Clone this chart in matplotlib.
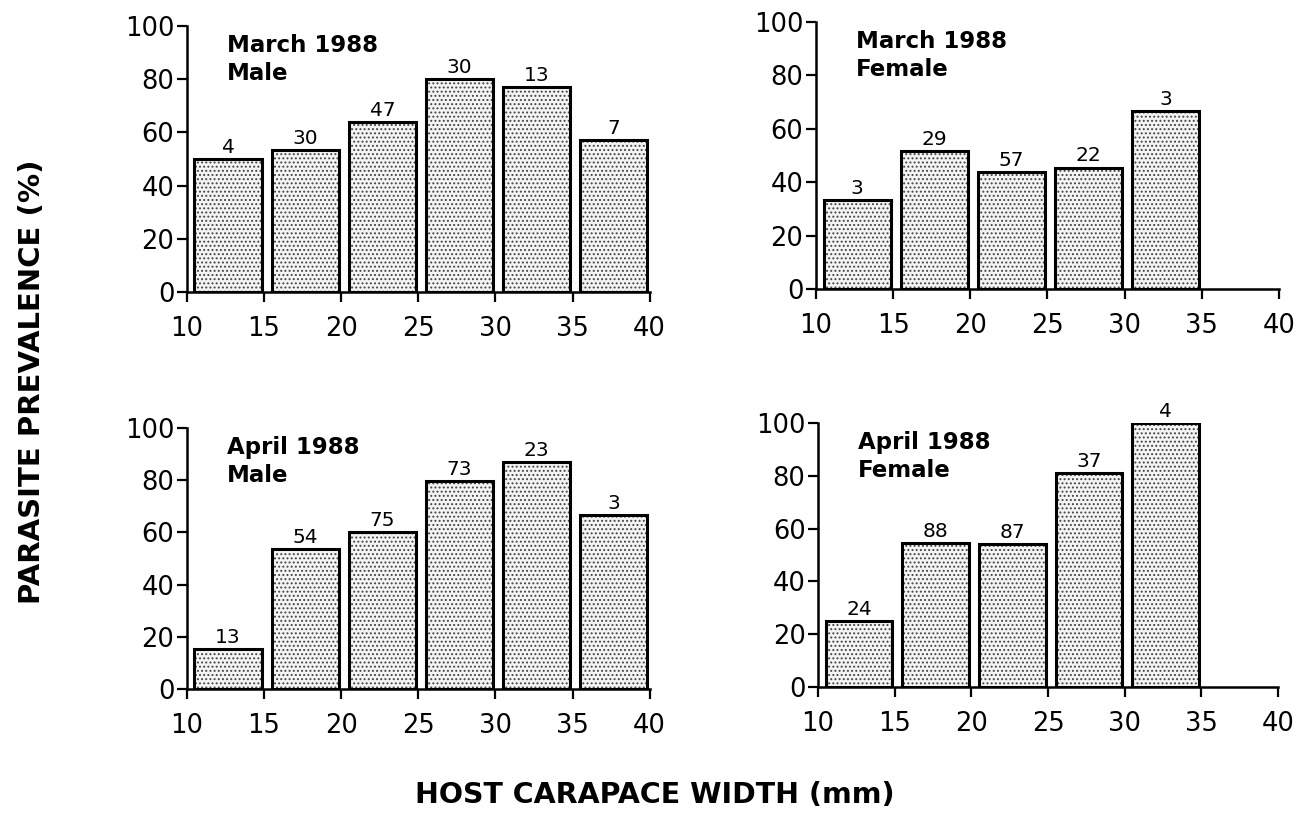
import numpy as np
import matplotlib.pyplot as plt

# size classes of carapace width (mm), lower edge of each 5 mm class
bins_male = [10, 15, 20, 25, 30, 35]
bins_female = [10, 15, 20, 25, 30]

# prevalence (%) and sample size per class
mar_male = [50.0, 53.3, 63.8, 80.0, 76.9, 57.1]
mar_male_n = [4, 30, 47, 30, 13, 7]
mar_female = [33.3, 51.7, 43.9, 45.5, 66.7]
mar_female_n = [3, 29, 57, 22, 3]
apr_male = [15.4, 53.7, 60.0, 79.5, 87.0, 66.7]
apr_male_n = [13, 54, 75, 73, 23, 3]
apr_female = [25.0, 54.5, 54.0, 81.1, 100.0]
apr_female_n = [24, 88, 87, 37, 4]

titles = ["March 1988\nMale", "March 1988\nFemale",
          "April 1988\nMale", "April 1988\nFemale"]

plt.rcParams['font.family'] = 'DejaVu Sans'
plt.rcParams['hatch.linewidth'] = 0.9

fig = plt.figure(figsize=(12.96, 8.27), dpi=100)

# axes boxes in figure fraction (left, bottom, width, height)
boxes = [
    [0.1441, 0.6469, 0.3572, 0.3216],
    [0.6296, 0.6505, 0.3572, 0.3229],
    [0.1441, 0.1669, 0.3572, 0.3156],
    [0.6312, 0.1693, 0.3549, 0.3192],
]

panels = [
    (bins_male, mar_male, mar_male_n),
    (bins_female, mar_female, mar_female_n),
    (bins_male, apr_male, apr_male_n),
    (bins_female, apr_female, apr_female_n),
]

for box, (bins, vals, ns), title in zip(boxes, panels, titles):
    ax = fig.add_axes(box)
    left = np.array(bins) + 0.5
    # stippled fill
    ax.bar(left, vals, width=4.35, align='edge', color='#f4f4f4',
           edgecolor='#444444', hatch='....', linewidth=0, zorder=2)
    # outline
    ax.bar(left, vals, width=4.35, align='edge', fill=False,
           edgecolor='black', linewidth=2.2, zorder=3)
    for x, v, n in zip(left, vals, ns):
        ax.text(x + 2.175, v + 0.8, str(n), ha='center', va='bottom',
                fontsize=14.5, clip_on=False)
    ax.text(12.6, 97, title, ha='left', va='top', fontsize=16.5,
            fontweight='bold', linespacing=1.3)

    ax.set_xlim(10, 40)
    ax.set_ylim(0, 100)
    ax.set_xticks(range(10, 41, 5))
    ax.set_yticks(range(0, 101, 20))
    ax.spines['top'].set_visible(False)
    ax.spines['right'].set_visible(False)
    ax.spines['left'].set_linewidth(1.8)
    ax.spines['bottom'].set_linewidth(1.8)
    ax.tick_params(axis='x', direction='out', length=7, width=1.6,
                   labelsize=18.5, pad=10)
    ax.tick_params(axis='y', direction='out', length=7, width=1.6,
                   labelsize=18.5, pad=2)

fig.text(0.025, 0.538, "PARASITE PREVALENCE (%)", rotation=90,
         ha='center', va='center', fontsize=21, fontweight='bold')
fig.text(0.505, 0.039, "HOST CARAPACE WIDTH (mm)", ha='center',
         va='center', fontsize=20.5, fontweight='bold')

plt.savefig('out.png', dpi=100)
